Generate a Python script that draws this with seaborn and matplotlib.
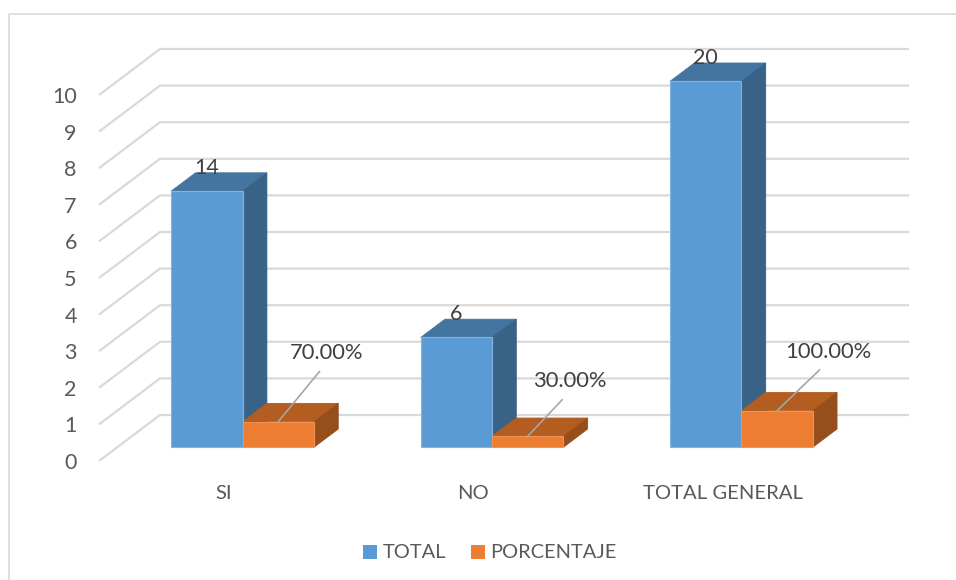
import numpy as np
import pandas as pd
import matplotlib
matplotlib.use("Agg")
import matplotlib.pyplot as plt
import seaborn as sns
from matplotlib.patches import Polygon
from matplotlib.transforms import ScaledTranslation

categories = ["SI", "NO", "TOTAL GENERAL"]
series_names = ["TOTAL", "PORCENTAJE"]
total_values = [7, 3, 10]
pct_values = [0.7, 0.3, 1.0]
total_labels = ["14", "6", "20"]
pct_labels = ["70.00%", "30.00%", "100.00%"]
y_ticks = list(range(0, 11))

W, H = 956, 580
PX_PER_UNIT = 36.6      # pixels for one y unit
GROUP_STEP = 249.4      # pixels between categories
DEPTH_X, DEPTH_Y = 24.3, 18.3   # 3d offset of the bars
FLOOR_DX, FLOOR_DY = 61, -46    # 3d offset of the walls

sns.set_theme(style="white")
plt.rcParams["font.family"] = ["Lato", "DejaVu Sans"]

df = pd.DataFrame({
    "cat": categories * 2,
    "serie": [series_names[0]] * 3 + [series_names[1]] * 3,
    "val": total_values + pct_values,
})

fig = plt.figure(figsize=(W / 100, H / 100), dpi=100, facecolor="white")
# axes run from the front edge of the floor to the end of the wall
left, right, bottom = 99, 909, 461
top = 48
ax = fig.add_axes([left / W, 1 - bottom / H, (right - left) / W, (bottom - top) / H])
ax.patch.set_alpha(0)

blue, orange = "#5b9bd5", "#ed7d31"
sns.barplot(data=df, x="cat", y="val", hue="serie", order=categories,
            hue_order=series_names, palette=[blue, orange], width=0.572,
            gap=0, saturation=1, ax=ax, linewidth=0.8)

# data limits from pixel layout
base_px = 447.3
first_px = 242.6
ax.set_yticks(y_ticks)
ax.set_yticklabels([str(v) for v in y_ticks])
ax.set_xlim((left - first_px) / GROUP_STEP, (right - first_px) / GROUP_STEP)
ax.set_ylim((base_px - bottom) / PX_PER_UNIT, (base_px - top) / PX_PER_UNIT)
dx = DEPTH_X / GROUP_STEP
dy = DEPTH_Y / PX_PER_UNIT
gdx = FLOOR_DX / GROUP_STEP
gdy = -FLOOR_DY / PX_PER_UNIT
y0 = (base_px - bottom) / PX_PER_UNIT

# walls
for v in y_ticks:
    yf = y0 + v
    ax.plot([(left - first_px) / GROUP_STEP, (left - first_px) / GROUP_STEP + gdx,
             (right - first_px) / GROUP_STEP],
            [yf, yf + gdy, yf + gdy], color="#d9d9d9", lw=1.6, zorder=1,
            clip_on=False, solid_joinstyle="miter", solid_capstyle="butt")

# bar sides
shades = {0: ("#4475a1", "#386286", "#86b4e0", 2.4), 1: ("#b35d20", "#964f1b", "#f0935a", 2.6)}
for i, cont in enumerate(ax.containers):
    top_c, side_c, edge_c, z = shades[i]
    for r in cont:
        x0, x1 = r.get_x(), r.get_x() + r.get_width()
        h = r.get_height()
        r.set_zorder(3)
        r.set_edgecolor(edge_c)
        ax.add_patch(Polygon([(x0, h), (x1, h), (x1 + dx, h + dy), (x0 + dx, h + dy)],
                             closed=True, fc=top_c, ec=top_c, lw=0.6, zorder=z))
        ax.add_patch(Polygon([(x1, 0), (x1 + dx, dy), (x1 + dx, h + dy), (x1, h)],
                             closed=True, fc=side_c, ec=side_c, lw=0.6, zorder=z))

# value labels
for r, lab in zip(ax.containers[0], total_labels):
    ax.annotate(lab, (r.get_x() + r.get_width() / 2, r.get_height()),
                xytext=(0, 23), textcoords="offset pixels", ha="center", va="center",
                fontsize=15.5, color="#404040", zorder=6, annotation_clip=False)

leader_off = [(48.5, 69), (42.5, 55), (51, 59)]
for r, lab, off in zip(ax.containers[1], pct_labels, leader_off):
    ax.annotate(lab, (r.get_x() + r.get_width() / 2, r.get_height()),
                xytext=off, textcoords="offset pixels", ha="center", va="center",
                fontsize=15.8, color="#404040", zorder=6, annotation_clip=False,
                arrowprops=dict(arrowstyle="-", color="#a6a6a6", lw=1.2,
                                relpos=(0.5, 0), shrinkA=5, shrinkB=0))

# axis text
sns.despine(ax=ax, left=True, bottom=True)
ax.set_xlabel("")
ax.set_ylabel("")
ax.tick_params(axis="y", length=0, pad=16, labelsize=15.5, labelcolor="#595959")
ax.tick_params(axis="x", length=0, pad=17.4, labelsize=14.6, labelcolor="#595959")
shift_y = ScaledTranslation(0, -(bottom - base_px) / 100, fig.dpi_scale_trans)
for t in ax.get_yticklabels():
    t.set_transform(t.get_transform() + shift_y)
shift_x = ScaledTranslation(-18.7 / 100, 0, fig.dpi_scale_trans)
for t in ax.get_xticklabels():
    t.set_transform(t.get_transform() + shift_x)

# legend
leg = ax.legend(ncol=2, loc="center", bbox_to_anchor=(490 / W, 1 - 553 / H),
                bbox_transform=fig.transFigure, frameon=False, fontsize=14.4,
                handlelength=0.7, handleheight=0.7, handletextpad=0.3, columnspacing=1.2,
                labelcolor="#595959", borderpad=0, borderaxespad=0)
for h in leg.legend_handles:
    h.set_edgecolor("none")

# chart frame, open on the right and bottom
fig.add_artist(plt.Line2D([8.5 / W, 8.5 / W, 1], [0, 1 - 13.5 / H, 1 - 13.5 / H],
                          color="#d9d9d9", lw=1.2, transform=fig.transFigure))

fig.savefig("out.png", dpi=100)
